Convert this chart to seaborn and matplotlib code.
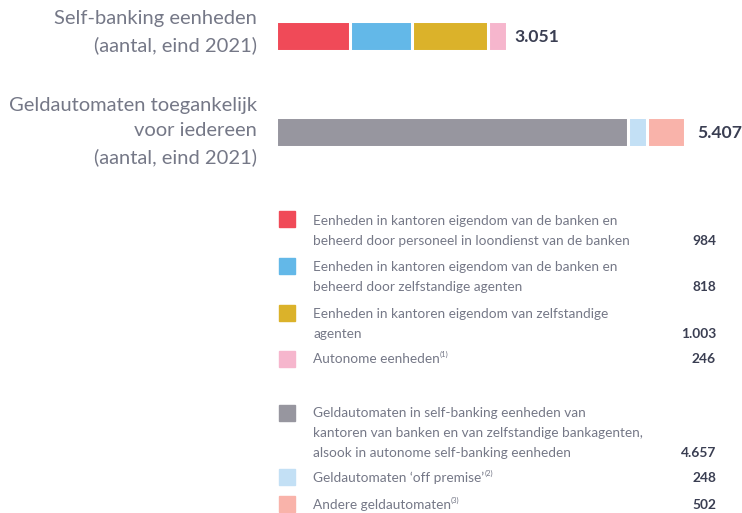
import matplotlib
matplotlib.use("Agg")
import matplotlib.pyplot as plt
import seaborn as sns
import numpy as np
import pandas as pd

# ---------------- data ----------------
bar_labels = ["Self-banking eenheden\n(aantal, eind 2021)",
              "Geldautomaten toegankelijk\nvoor iedereen\n(aantal, eind 2021)"]
bar_totals = ["3.051", "5.407"]

selfbank_values = [984, 818, 1003, 246]
selfbank_colors = ["#f04a58", "#63b8e8", "#dbb22a", "#f6b6cd"]
selfbank_names = ["Eenheden in kantoren eigendom van de banken en\nbeheerd door personeel in loondienst van de banken",
                  "Eenheden in kantoren eigendom van de banken en\nbeheerd door zelfstandige agenten",
                  "Eenheden in kantoren eigendom van zelfstandige\nagenten",
                  "Autonome eenheden"]
selfbank_notes = ["", "", "", "(1)"]

atm_values = [4657, 248, 502]
atm_colors = ["#97969f", "#c3e0f5", "#f9b3aa"]
atm_names = ["Geldautomaten in self-banking eenheden van\nkantoren van banken en van zelfstandige bankagenten,\nalsook in autonome self-banking eenheden",
             "Geldautomaten \u2018off premise\u2019",
             "Andere geldautomaten"]
atm_notes = ["", "(2)", "(3)"]

value_labels_sb = ["984", "818", "1.003", "246"]
value_labels_atm = ["4.657", "248", "502"]

# ---------------- figure ----------------
W, H = 742, 513
sns.set_theme(style="white")
plt.rcParams['font.family'] = ['Lato', 'DejaVu Sans']
fig = plt.figure(figsize=(W / 100, H / 100), dpi=100)

def fx(x):
    return x / W

def fy(y):
    return 1 - y / H

TXT = "#757887"
DARK = "#3a3e52"

# axes for bars: pixel x 276..742, y 0..180
ax = fig.add_axes([fx(276), fy(180), fx(742) - fx(276), fy(0) - fy(180)])
px_per_unit = (685 - 276) / 5407.0
ax.set_xlim(0, (742 - 276) / px_per_unit)

groups = ["sb", "atm"]
segments = [selfbank_values, atm_values]
colors = [selfbank_colors, atm_colors]
rows = []
for g, vals, cols in zip(groups, segments, colors):
    cum = np.cumsum(vals)
    for i in range(len(vals)):
        rows.append({"group": g, "cum": cum[i], "color": cols[i], "order": i})
df = pd.DataFrame(rows)
# draw from the largest cumulative to the smallest so segments overlap in order
max_n = df["order"].max()
for k in range(max_n, -1, -1):
    sub = df[df["order"] == k]
    for _, r in sub.iterrows():
        d = pd.DataFrame({"group": pd.Categorical([r["group"]], categories=groups), "cum": [r["cum"]]})
        sns.barplot(data=d, x="cum", y="group", order=groups, color=r["color"],
                    saturation=1, width=0.31, edgecolor="white", linewidth=2.2, ax=ax)

# map: pixel y = 36 + 96*cat ; axis top px 0 -> cat -0.375 ; bottom px 180 -> 1.5
ax.set_ylim(1.5, -0.375)
ax.axis("off")

# left labels and totals
fig.text(fx(257), fy(32), bar_labels[0], ha="right", va="center", fontsize=14.5,
         color=TXT, linespacing=1.58)
fig.text(fx(257), fy(131.5), bar_labels[1], ha="right", va="center", fontsize=14.5,
         color=TXT, linespacing=1.58)
fig.text(fx(514), fy(37), bar_totals[0], ha="left", va="center", fontsize=12.6,
         color=DARK, fontweight="bold")
fig.text(fx(697), fy(133), bar_totals[1], ha="left", va="center", fontsize=12.6,
         color=DARK, fontweight="bold")

# legend
renderer = fig.canvas.get_renderer()

def legend_row(y_sq, y_text_last, name, note, val, color):
    fig.patches.append(plt.Rectangle((fx(279), fy(y_sq + 16)), fx(16), 16 / H,
                                     transform=fig.transFigure, color=color, figure=fig))
    t = fig.text(fx(313), fy(y_text_last + 5), name, ha="left", va="baseline",
                 fontsize=9.8, color=TXT, linespacing=1.78)
    if note:
        bb = t.get_window_extent(renderer=renderer)
        fig.text(bb.x1 / W, fy(y_text_last - 1.5), note, ha="left", va="baseline",
                 fontsize=5.5, color=TXT)
    fig.text(fx(716), fy(y_text_last + 5), val, ha="right", va="baseline",
             fontsize=9.9, color=DARK, fontweight="bold")

sb_sq = [211, 258, 305, 351]
sb_last = [240, 286, 333, 358]
for i in range(4):
    legend_row(sb_sq[i], sb_last[i], selfbank_names[i], selfbank_notes[i],
               value_labels_sb[i], selfbank_colors[i])

atm_sq = [405, 469, 496]
atm_last = [452, 477, 504]
for i in range(3):
    legend_row(atm_sq[i], atm_last[i], atm_names[i], atm_notes[i],
               value_labels_atm[i], atm_colors[i])

fig.savefig("out.png", dpi=100)
